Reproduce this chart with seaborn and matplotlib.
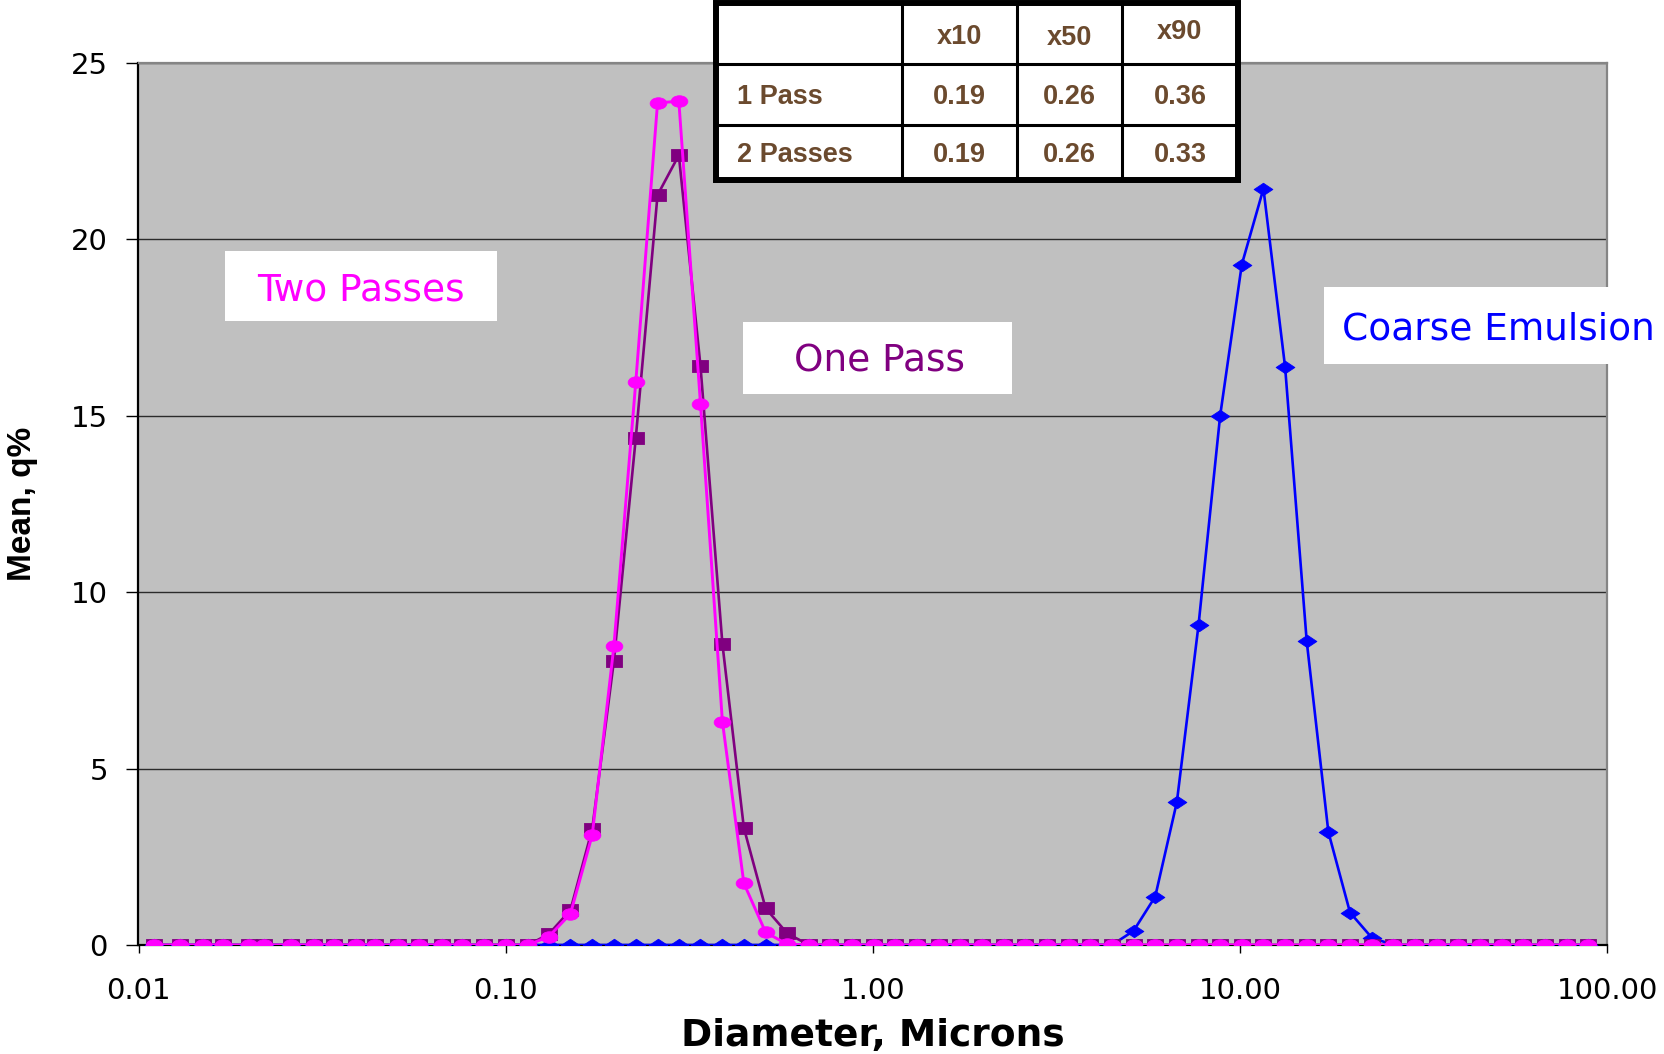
import numpy as np
import pandas as pd
import matplotlib
matplotlib.use("Agg")
import matplotlib.pyplot as plt
import seaborn as sns
from matplotlib.path import Path
from matplotlib.transforms import Affine2D
from matplotlib.patches import Rectangle
from matplotlib.lines import Line2D
from matplotlib.ticker import NullLocator

# ---------------- data ----------------
diameter = [0.011, 0.013, 0.015, 0.017, 0.020, 0.022, 0.026, 0.030, 0.034, 0.039,
            0.044, 0.051, 0.058, 0.067, 0.076, 0.087, 0.100, 0.115, 0.131, 0.150,
            0.172, 0.197, 0.226, 0.259, 0.296, 0.339, 0.389, 0.445, 0.510, 0.584,
            0.669, 0.766, 0.877, 1.005, 1.151, 1.318, 1.510, 1.729, 1.981, 2.269,
            2.599, 2.976, 3.409, 3.905, 4.472, 5.122, 5.867, 6.720, 7.697, 8.816,
            10.097, 11.565, 13.246, 15.172, 17.377, 19.904, 22.797, 26.111, 29.907, 34.255,
            39.234, 44.938, 51.471, 58.953, 67.523, 77.339, 88.583]

coarse_emulsion = [0, 0, 0, 0, 0, 0, 0, 0, 0, 0,
                   0, 0, 0, 0, 0, 0, 0, 0, 0, 0,
                   0, 0, 0, 0, 0, 0, 0, 0, 0, 0,
                   0, 0, 0, 0, 0, 0, 0, 0, 0, 0,
                   0, 0, 0, 0, 0, 0.40, 1.37, 4.05, 9.06, 15.00,
                   19.28, 21.43, 16.38, 8.60, 3.20, 0.92, 0.21, 0, 0, 0,
                   0, 0, 0, 0, 0, 0, 0]

one_pass = [0, 0, 0, 0, 0, 0, 0, 0, 0, 0,
            0, 0, 0, 0, 0, 0, 0, 0, 0.31, 0.99,
            3.29, 8.05, 14.37, 21.25, 22.38, 16.41, 8.53, 3.32, 1.04, 0.33,
            0, 0, 0, 0, 0, 0, 0, 0, 0, 0,
            0, 0, 0, 0, 0, 0, 0, 0, 0, 0,
            0, 0, 0, 0, 0, 0, 0, 0, 0, 0,
            0, 0, 0, 0, 0, 0, 0]

two_passes = [0, 0, 0, 0, 0, 0, 0, 0, 0, 0,
              0, 0, 0, 0, 0, 0, 0, 0, 0.24, 0.88,
              3.12, 8.47, 15.96, 23.86, 23.91, 15.34, 6.33, 1.75, 0.36, 0.02,
              0, 0, 0, 0, 0, 0, 0, 0, 0, 0,
              0, 0, 0, 0, 0, 0, 0, 0, 0, 0,
              0, 0, 0, 0, 0, 0, 0, 0, 0, 0,
              0, 0, 0, 0, 0, 0, 0]

series_labels = ["Coarse Emulsion", "One Pass", "Two Passes"]

x_tick_values = [0.01, 0.1, 1, 10, 100]
x_tick_labels = ["0.01", "0.10", "1.00", "10.00", "100.00"]
y_tick_values = [0, 5, 10, 15, 20, 25]

table_header = ["", "x10", "x50", "x90"]
table_rows = ["1 Pass", "2 Passes"]
table_values = [["0.19", "0.26", "0.36"],
                ["0.19", "0.26", "0.33"]]

# ---------------- figure ----------------
W, H = 1665, 1054
sns.set_theme(style="white")
plt.rcParams["font.family"] = ["DejaVu Sans"]

fig = plt.figure(figsize=(W / 100, H / 100), dpi=100)
fig.patch.set_facecolor("white")

ax_l, ax_r, ax_t, ax_b = 138.5, 1607.5, 62.7, 945.0
ax = fig.add_axes([ax_l / W, 1 - ax_b / H, (ax_r - ax_l) / W, (ax_b - ax_t) / H])
ax.set_facecolor("#C0C0C0")

df = pd.DataFrame({"diameter": diameter,
                   "coarse": coarse_emulsion,
                   "one": one_pass,
                   "two": two_passes})

ellipse = Path.unit_circle().transformed(Affine2D().scale(1.45, 1.0))
diamond = Path([(-1.5, 0), (0, 1), (1.5, 0), (0, -1), (-1.5, 0)],
               [Path.MOVETO, Path.LINETO, Path.LINETO, Path.LINETO, Path.CLOSEPOLY])
rect = Path([(-1.35, -1), (1.35, -1), (1.35, 1), (-1.35, 1), (-1.35, -1)],
            [Path.MOVETO, Path.LINETO, Path.LINETO, Path.LINETO, Path.CLOSEPOLY])

sns.lineplot(data=df, x="diameter", y="coarse", ax=ax, color="#0000FF",
             marker=diamond, markersize=13.5, markeredgecolor="#0000FF",
             markeredgewidth=0.6, linewidth=1.9, zorder=3)
sns.lineplot(data=df, x="diameter", y="one", ax=ax, color="#800080",
             marker=rect, markersize=12, markeredgecolor="#800080",
             markeredgewidth=0.6, linewidth=1.9, zorder=4)
sns.lineplot(data=df, x="diameter", y="two", ax=ax, color="#FF00FF",
             marker=ellipse, markersize=12, markeredgecolor="#FF00FF",
             markeredgewidth=0.6, linewidth=2.1, zorder=5)

ax.set_xscale("log")
ax.set_xlim(0.01, 100)
ax.set_ylim(0, 25)
ax.set_xticks(x_tick_values)
ax.set_xticklabels(x_tick_labels)
ax.xaxis.set_minor_locator(NullLocator())
ax.set_yticks(y_tick_values)
ax.set_yticklabels([str(v) for v in y_tick_values])

ax.tick_params(axis="x", bottom=True, direction="out", length=5.8, width=1.0,
               pad=17, labelsize=21, color="black", labelcolor="black")
ax.tick_params(axis="y", left=True, direction="out", length=9, width=1.0,
               pad=13, labelsize=21, color="black", labelcolor="black")

ax.yaxis.grid(True, color="#2b2b2b", linewidth=1.0)
ax.xaxis.grid(False)
ax.set_axisbelow(True)

for side in ["left", "bottom"]:
    ax.spines[side].set_color("black")
    ax.spines[side].set_linewidth(1.6)
for side in ["top", "right"]:
    ax.spines[side].set_color("#858585")
    ax.spines[side].set_linewidth(1.6)

ax.set_xlabel("Diameter, Microns", fontsize=27, fontweight="bold", va="center",
              color="black")
ax.xaxis.set_label_coords(0.5, (ax_b - 1036) / (ax_b - ax_t))
ax.set_ylabel("Mean, q%", family=["Liberation Sans"], fontsize=24,
              fontweight="bold", va="center", color="black")
ax.yaxis.set_label_coords((23 - ax_l) / (ax_r - ax_l), 0.5)


def fx(px):
    return px / W


def fy(py):
    return 1 - py / H


# ---------------- label boxes ----------------
boxes = [
    ((225, 251, 497, 321), (361, 287), series_labels[2], "#FF00FF"),
    ((743, 322, 1012, 394), (879, 358), series_labels[1], "#800080"),
    ((1324, 287, 1665, 364), (1498, 326), series_labels[0], "#0000FF"),
]
for (x0, y0, x1, y1), (tx, ty), label, col in boxes:
    fig.add_artist(Rectangle((fx(x0), fy(y1)), (x1 - x0) / W, (y1 - y0) / H,
                             transform=fig.transFigure, facecolor="white",
                             edgecolor="none", zorder=5))
    fig.text(fx(tx), fy(ty), label, color=col, fontsize=27, ha="center",
             va="center_baseline", zorder=6)

# ---------------- table ----------------
col_edges = [716, 901.7, 1016.6, 1121.8, 1238]
row_edges = [2.5, 63.7, 125, 180]
fig.add_artist(Rectangle((fx(col_edges[0]), fy(row_edges[-1])),
                         (col_edges[-1] - col_edges[0]) / W,
                         (row_edges[-1] - row_edges[0]) / H,
                         transform=fig.transFigure, facecolor="white",
                         edgecolor="black", linewidth=4.3, zorder=7))
for cx in col_edges[1:-1]:
    fig.add_artist(Line2D([fx(cx), fx(cx)], [fy(row_edges[0]), fy(row_edges[-1])],
                          transform=fig.transFigure, color="black",
                          linewidth=2.2, zorder=8))
for ry in row_edges[1:-1]:
    fig.add_artist(Line2D([fx(col_edges[0]), fx(col_edges[-1])], [fy(ry), fy(ry)],
                          transform=fig.transFigure, color="black",
                          linewidth=2.2, zorder=8))

brown = "#6B4A2E"
tfont = dict(family=["Liberation Sans"], fontsize=19.5, fontweight="bold",
             color=brown, zorder=9)
header_y = [33, 34, 35, 29]
for j, h in enumerate(table_header):
    if h:
        cx = (col_edges[j] + col_edges[j + 1]) / 2
        fig.text(fx(cx), fy(header_y[j]), h, ha="center", va="center_baseline", **tfont)
for i, rname in enumerate(table_rows):
    cy = (row_edges[i + 1] + row_edges[i + 2]) / 2
    fig.text(fx(737), fy(cy), rname, ha="left", va="center_baseline", **tfont)
    for j, v in enumerate(table_values[i]):
        cx = (col_edges[j + 1] + col_edges[j + 2]) / 2
        fig.text(fx(cx), fy(cy), v, ha="center", va="center_baseline", **tfont)

fig.savefig("out.png", dpi=100, facecolor="white")
